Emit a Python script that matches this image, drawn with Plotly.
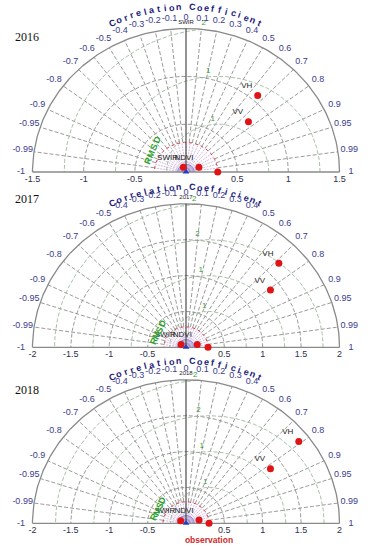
import numpy as np
import plotly.graph_objects as go

W, H = 370, 550

# ---------------- data ----------------
years = ["2016", "2017", "2018"]
max_std = [1.5, 2.0, 2.0]
obs_std = [0.31, 0.287, 0.30]
model_names = ["VH", "VV", "NDVI", "SWIR"]
std_2016 = [1.063, 0.805, 0.136, 0.056]
corr_2016 = [0.659, 0.758, 0.93, -0.46]
std_2017 = [1.683, 1.360, 0.152, 0.076]
corr_2017 = [0.719, 0.809, 0.965, -0.85]
std_2018 = [1.860, 1.337, 0.176, 0.078]
corr_2018 = [0.790, 0.823, 0.967, -0.894]
model_std = [std_2016, std_2017, std_2018]
model_corr = [corr_2016, corr_2017, corr_2018]

corr_ticks = [-1, -0.99, -0.95, -0.9, -0.8, -0.7, -0.6, -0.5, -0.4, -0.3, -0.2, -0.1,
              0, 0.1, 0.2, 0.3, 0.4, 0.5, 0.6, 0.7, 0.8, 0.9, 0.95, 0.99, 1]
corr_tick_labels = ["-1", "-0.99", "-0.95", "-0.9", "-0.8", "-0.7", "-0.6", "-0.5", "-0.4",
                    "-0.3", "-0.2", "-0.1", "0", "0.1", "0.2", "0.3", "0.4", "0.5", "0.6",
                    "0.7", "0.8", "0.9", "0.95", "0.99", "1"]
x_ticks_2016 = [-1.5, -1, -0.5, 0.5, 1, 1.5]
x_ticks_2017 = [-2, -1.5, -1, -0.5, 0.5, 1, 1.5, 2]
x_ticks = [x_ticks_2016, x_ticks_2017, x_ticks_2017]
x_tick_labels = [[f"{v:g}" for v in t] for t in x_ticks]
std_arcs = [[0.5, 1.0], [0.5, 1.0, 1.5], [0.5, 1.0, 1.5]]
rmsd_arcs = [[0.5, 1.0, 1.5], [0.5, 1.0, 1.5, 2.0], [0.5, 1.0, 1.5, 2.0]]
rmsd_labels = [["1", "1", "2"], ["1", "1", "2", "2"], ["1", "1", "2", "2"]]
top_tags = ["SWIR", "2017", "2018"]
title_text = "Correlation Coefficient"

# ---------------- layout geometry (pixels) ----------------
CX = 186.0
BASE_Y = [172.0, 347.3, 523.3]
HALF_W = 153.5
HALF_H = 143.5
PANEL_PX = [(0, 181), (181, 357), (357, 550)]
YEAR_Y = [37, 199, 390]
TITLE_RY = [165.0, 160.0, 162.0]
RMSD_TXT = [((-38, -11), (-29, -32)), ((-32, -6), (-24, -23.5)), ((-32, -6), (-23.5, -23))]

fig = go.Figure()
annotations = []

GRAY = "#8a8a8a"
FONT = "Liberation Sans, Arial, sans-serif"


def to_paper(px, py):
    return px / W, 1 - py / H


for i in range(3):
    R = max_std[i]
    kx = HALF_W / R
    ky = HALF_H / R
    by = BASE_Y[i]
    pt, pb = PANEL_PX[i]
    sfx = "" if i == 0 else str(i + 1)
    xa, ya = "x" + sfx, "y" + sfx
    fig.layout["xaxis" + sfx] = dict(domain=[0, 1], range=[(0 - CX) / kx, (W - CX) / kx],
                                     visible=False, anchor=ya, fixedrange=True)
    fig.layout["yaxis" + sfx] = dict(domain=[1 - pb / H, 1 - pt / H],
                                     range=[(by - pb) / ky, (by - pt) / ky],
                                     visible=False, anchor=xa, fixedrange=True)

    def add(**kw):
        fig.add_trace(go.Scatter(xaxis=xa, yaxis=ya, showlegend=False, hoverinfo="skip",
                                 cliponaxis=False, **kw))

    th = np.linspace(0, np.pi, 241)
    o = obs_std[i]

    # blue small arcs near origin
    rb = 0.055 * R
    add(x=list(rb * np.cos(th)), y=list(rb * np.sin(th)), mode="lines",
        line=dict(color="#6a74d8", width=0.8), fill="toself", fillcolor="rgba(110,120,220,0.35)")
    add(x=list(rb * 0.5 * np.cos(th)), y=list(rb * 0.5 * np.sin(th)), mode="lines",
        line=dict(color="#5a64c8", width=0.8))

    # radial correlation lines (gray dashed)
    rx, ry = [], []
    for c in corr_ticks:
        if abs(c) == 1 or c == 0:
            continue
        t = np.arccos(c)
        rx += [o * np.cos(t), R * np.cos(t), None]
        ry += [o * np.sin(t), R * np.sin(t), None]
    add(x=rx, y=ry, mode="lines", line=dict(color="#8e8e8e", width=0.9, dash="4px,2px"))

    # purple radial lines inside observation circle
    px_, py_ = [], []
    for t in np.linspace(0, np.pi, 25)[1:-1]:
        px_ += [0, o * np.cos(t), None]
        py_ += [0, o * np.sin(t), None]
    add(x=px_, y=py_, mode="lines", line=dict(color="#b48cc8", width=0.6, dash="2px,1px"))

    # std dev arcs (gray dashed)
    for s in std_arcs[i]:
        add(x=list(s * np.cos(th)), y=list(s * np.sin(th)), mode="lines",
            line=dict(color="#8e8e8e", width=0.9, dash="4px,2px"))

    # RMSD arcs (green-gray dashed), clipped to outer semicircle
    for d in rmsd_arcs[i]:
        xs = o + d * np.cos(th)
        ys = d * np.sin(th)
        inside = np.hypot(xs, ys) <= R
        xs = [float(a) if m else None for a, m in zip(xs, inside)]
        ys = [float(a) if m else None for a, m in zip(ys, inside)]
        add(x=xs, y=ys, mode="lines", line=dict(color="#9cba9c", width=0.9, dash="4px,2px"))

    # RMSD labels
    ang = np.deg2rad(95)
    lx = [o + (d + 0.04 * R) * np.cos(ang) for d in rmsd_arcs[i]]
    ly = [(d + 0.04 * R) * np.sin(ang) for d in rmsd_arcs[i]]
    add(x=lx, y=ly, mode="text", text=rmsd_labels[i],
        textfont=dict(color="#3d9a3d", size=8, family=FONT))

    # observation circle (red dotted)
    add(x=list(o * np.cos(th)), y=list(o * np.sin(th)), mode="lines",
        line=dict(color="#d23a4a", width=1, dash="dot"))

    # outer arc and baseline
    add(x=list(R * np.cos(th)), y=list(R * np.sin(th)), mode="lines",
        line=dict(color=GRAY, width=1.3))
    add(x=[-R, R], y=[0, 0], mode="lines", line=dict(color=GRAY, width=1.3))
    # corr = 0 line
    add(x=[0, 0], y=[0, R], mode="lines", line=dict(color="#4a4a4a", width=1.2))

    # correlation labels
    tx = [1.075 * R * c for c in corr_ticks]
    ty = [1.075 * R * np.sin(np.arccos(c)) for c in corr_ticks]
    add(x=tx, y=ty, mode="text", text=corr_tick_labels,
        textfont=dict(color="#3b3b8e", size=9, family=FONT))

    # x tick labels
    add(x=x_ticks[i], y=[-7.5 / ky] * len(x_ticks[i]), mode="text", text=x_tick_labels[i],
        textfont=dict(color="#30304a", size=9, family=FONT))

    # top tag
    add(x=[0], y=[R + 6.5 / ky], mode="text", text=[top_tags[i]],
        textfont=dict(color="#222222", size=6, family=FONT))

    # model points
    sx = [s * c for s, c in zip(model_std[i], model_corr[i])]
    sy = [s * np.sin(np.arccos(c)) for s, c in zip(model_std[i], model_corr[i])]
    add(x=sx, y=sy, mode="markers+text", text=model_names, textposition="top left",
        marker=dict(color="#e01414", size=7),
        textfont=dict(color="#222222", size=8, family=FONT))
    # observation point
    add(x=[o], y=[0], mode="markers", marker=dict(color="#e01414", size=7))
    # reference triangle at origin
    add(x=[0], y=[0], mode="markers",
        marker=dict(color="#1f3fc0", size=6, symbol="triangle-up"))

    if i == 2:
        add(x=[o], y=[-17.5 / ky], mode="text", text=["observation"],
            textfont=dict(color="#cc2b2b", size=8.5, family=FONT, weight="bold"))

    # curved title
    n = len(title_text)
    rxp, ryp = 171.0, TITLE_RY[i]
    a0 = 25.3
    for k, ch in enumerate(title_text):
        if ch == " ":
            continue
        t = 90 + a0 - k * (2 * a0) / (n - 1)
        pxx = CX + rxp * np.cos(np.deg2rad(t))
        pyy = by - ryp * np.sin(np.deg2rad(t))
        xx, yy = to_paper(pxx, pyy)
        annotations.append(dict(x=xx, y=yy, xref="paper", yref="paper", text=ch,
                                showarrow=False, textangle=90 - t, xanchor="center",
                                yanchor="middle",
                                font=dict(color="#20207a", size=9, family=FONT, weight="bold")))

    # RMSD vertical label
    (sx0, sy0), (sx1, sy1) = RMSD_TXT[i]
    rm = "RMSD"
    angle = np.degrees(np.arctan2(-(sy1 - sy0), sx1 - sx0))
    for k, ch in enumerate(rm):
        f = k / (len(rm) - 1)
        pxx = CX + sx0 + f * (sx1 - sx0)
        pyy = by + sy0 + f * (sy1 - sy0)
        xx, yy = to_paper(pxx, pyy)
        annotations.append(dict(x=xx, y=yy, xref="paper", yref="paper", text=ch,
                                showarrow=False, textangle=-angle, xanchor="center",
                                yanchor="middle",
                                font=dict(color="#2aa02a", size=9, family=FONT, weight="bold")))

    # year label
    xx, yy = to_paper(26.5, YEAR_Y[i])
    annotations.append(dict(x=xx, y=yy, xref="paper", yref="paper", text=years[i],
                            showarrow=False, xanchor="center", yanchor="middle",
                            font=dict(color="#111111", size=12,
                                      family="Liberation Serif, Times New Roman, serif")))

fig.update_layout(width=W, height=H, margin=dict(l=0, r=0, t=0, b=0),
                  paper_bgcolor="white", plot_bgcolor="white",
                  annotations=annotations, showlegend=False)

fig.write_html("out.html", config={"displayModeBar": False},
               post_script="document.body.style.margin='0px';")
